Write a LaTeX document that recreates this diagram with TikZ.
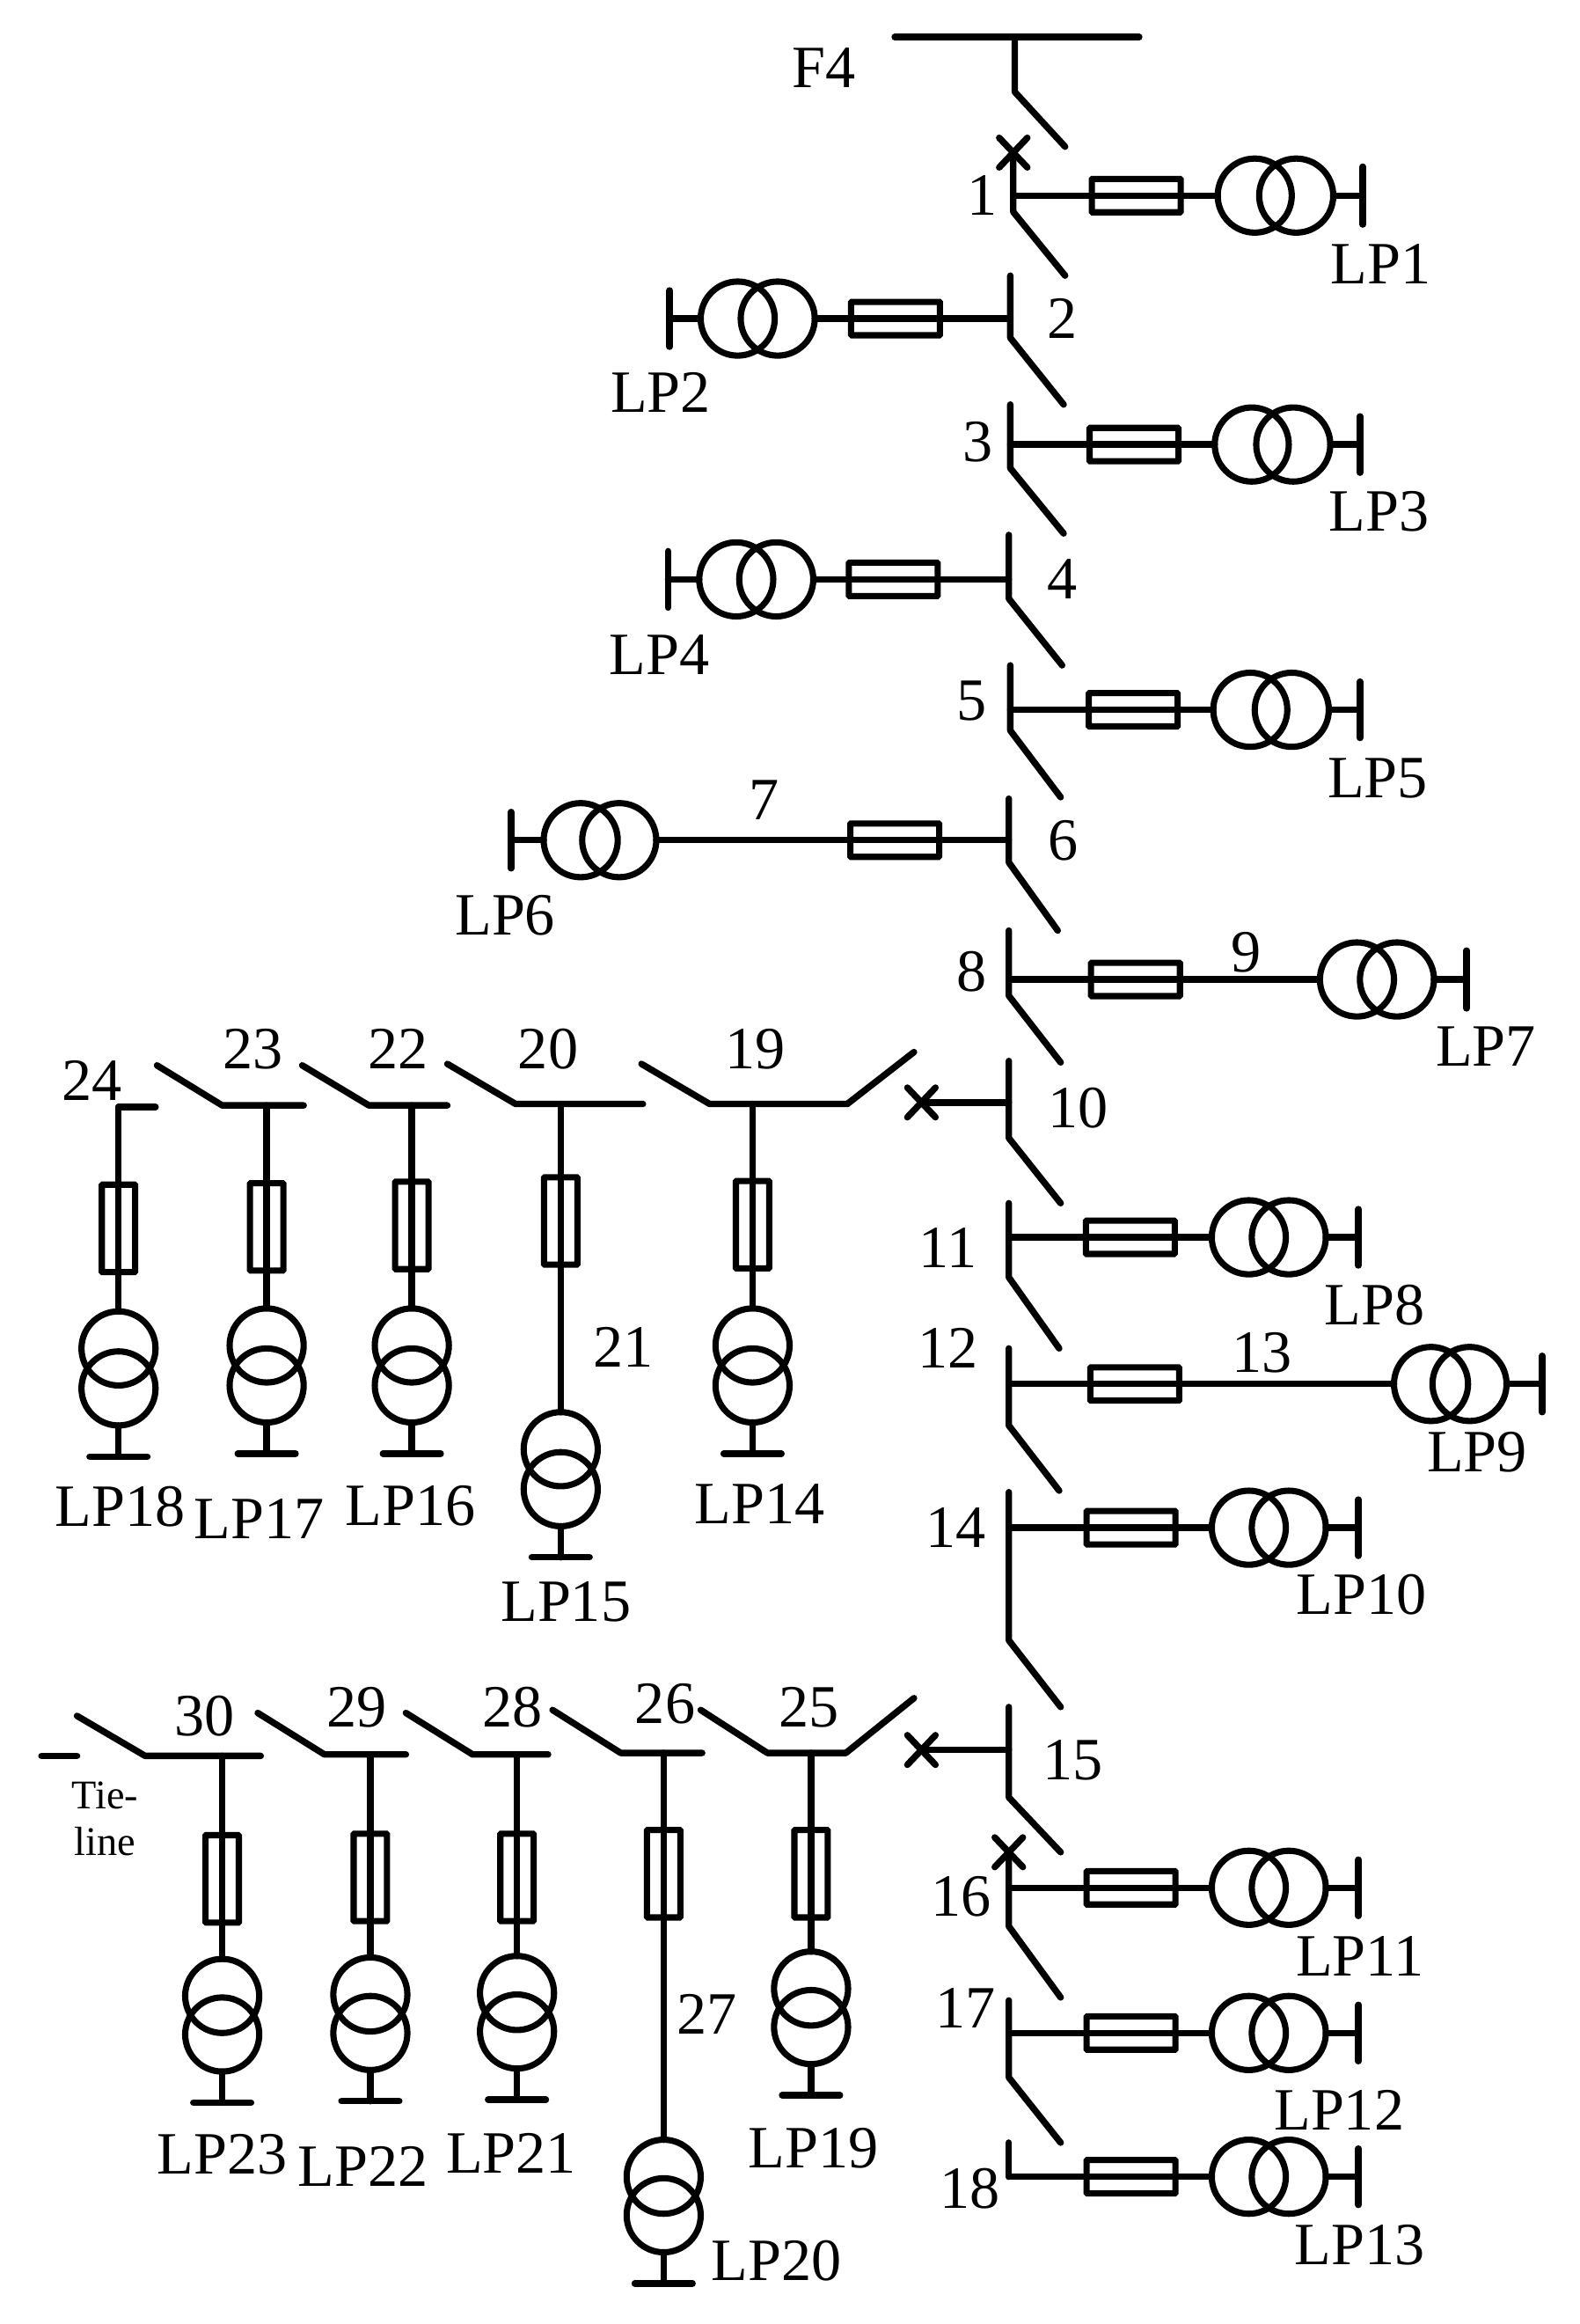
\documentclass[tikz,border=0pt]{standalone}
\usepackage{fontspec}
\setmainfont{Liberation Serif}
\newcommand{\hload}[9]{% name, bus x, y, fuse cx, c1, c2, bar x, bar half, near anchor of first circle
  \coordinate (#1b) at (#2,#3);
  \node[fuseh] (#1f) at (#4,#3) {};
  \node[xfmr] (#1p) at (#5,#3) {};
  \node[xfmr] (#1s) at (#6,#3) {};
  \coordinate (#1e) at (#7,#3);
  \coordinate (#1u) at (#7,#3-#8);
  \coordinate (#1d) at (#7,#3+#8);
  \draw[wire] (#1b) -- (#1f.west) -- (#1f.east) -- (#1p.#9);
  \draw[wire] (#1u) -- (#1d);
}
\newcommand{\vload}[6]{% name, x, bus y, fuse cy, c1 y, c2 y
  \coordinate (#1b) at (#2,#3);
  \node[fusev] (#1f) at (#2,#4) {};
  \node[xfmr] (#1p) at (#2,#5) {};
  \node[xfmr] (#1s) at (#2,#6) {};
  \coordinate (#1e) at (#2,#6+46);
  \coordinate (#1l) at (#2-19.5,#6+46);
  \coordinate (#1r) at (#2+19.5,#6+46);
  \draw[wire] (#1b) -- (#1f.north) -- (#1f.south) -- (#1p.north);
  \draw[wire] (#1s.south) -- (#1e);
  \draw[wire] (#1l) -- (#1r);
}
\newcommand{\feeder}[6]{% name, x, top, bottom, tip x, tip y
  \coordinate (#1t) at (#2,#3);
  \coordinate (#1m) at (#2,#4);
  \coordinate (#1k) at (#5,#6);
  \draw[wire] (#1t) -- (#1m) -- (#1k);
}
\newcommand{\crossmark}[3]{%
  \coordinate (#1) at (#2,#3);
  \coordinate (#1a) at (#2-9.5,#3-10);
  \coordinate (#1c) at (#2+9.5,#3+10);
  \coordinate (#1g) at (#2-9.5,#3+10);
  \coordinate (#1h) at (#2+9.5,#3-10);
  \draw[wire] (#1a) -- (#1c);
  \draw[wire] (#1g) -- (#1h);
}
\newcommand{\swbus}[6]{% name, blade x, blade y, hinge x, y, bus right x
  \coordinate (#1k) at (#2,#3);
  \coordinate (#1h) at (#4,#5);
  \coordinate (#1r) at (#6,#5);
  \draw[wire] (#1k) -- (#1h) -- (#1r);
}
\begin{document}
\begin{tikzpicture}[x=1pt,y=-1pt,
  wire/.style={line width=4.4pt,line cap=round,line join=round},
  fuseh/.style={draw,line width=4.2pt,rectangle,minimum width=60pt,minimum height=22.5pt,inner sep=0pt,outer sep=0pt,rounded corners=0.5pt},
  fusev/.style={draw,line width=4.2pt,rectangle,minimum width=22.5pt,minimum height=59pt,inner sep=0pt,outer sep=0pt,rounded corners=0.5pt},
  xfmr/.style={draw,line width=4.2pt,circle,minimum size=50pt,inner sep=0pt,outer sep=0pt},
  lab/.style={inner sep=0pt,outer sep=0pt,font=\fontsize{40.5}{40.5}\selectfont},
  tinylab/.style={inner sep=0pt,outer sep=0pt,font=\fontsize{27.5}{27.5}\selectfont}]
\useasboundingbox (0,0) rectangle (1066,1568.4);

% source
\coordinate (f4l) at (604,25); \coordinate (f4r) at (769,25); \coordinate (f4c) at (685,25);
\draw[wire] (f4l) -- (f4r);
\coordinate (f4m) at (685,62); \coordinate (f4k) at (719,99);
\draw[wire] (f4c) -- (f4m) -- (f4k);
\node[lab] (tF4) at (556,46) {F4};

% main feeder, right side
\crossmark{xa}{684}{103}
\feeder{ba}{684}{103}{143}{719}{186}
\hload{la}{684}{132}{767}{847}{875}{920}{19.5}{west}
\draw[wire] (las.east) -- (lae);
\node[lab] (n1) at (663,132) {1};
\node[lab] (tLP1) at (932,178) {LP1};

\feeder{bb}{682}{186}{228}{718}{273}
\hload{lb}{682}{215}{604.5}{525}{498}{452}{19}{east}
\draw[wire] (lbs.west) -- (lbe);
\node[lab] (n2) at (717,215) {2};
\node[lab] (tLP2) at (446,265) {LP2};

\feeder{bc}{682}{273}{316}{718}{360}
\hload{lc}{682}{300}{765.5}{845}{873}{918}{19}{west}
\draw[wire] (lcs.east) -- (lce);
\node[lab] (n3) at (660,298) {3};
\node[lab] (tLP3) at (931,345) {LP3};

\feeder{bd}{681}{361}{404}{717}{449}
\hload{ld}{681}{391}{603}{524}{497}{451}{19}{east}
\draw[wire] (lds.west) -- (lde);
\node[lab] (n4) at (717,391) {4};
\node[lab] (tLP4) at (445,442) {LP4};

\feeder{be}{682}{449}{493}{716}{538}
\hload{le}{682}{479}{765}{844}{872}{918}{19}{west}
\draw[wire] (les.east) -- (lee);
\node[lab] (n5) at (656,473) {5};
\node[lab] (tLP5) at (930,525) {LP5};

\feeder{bf}{681}{539}{582}{714}{628}
\hload{lf}{681}{567}{604}{418}{392}{345}{19}{east}
\draw[wire] (lfs.west) -- (lfe);
\node[lab] (n6) at (718,567) {6};
\node[lab] (n7) at (516,540) {7};
\node[lab] (tLP6) at (341,618) {LP6};

\feeder{bg}{681}{628}{672}{716}{717}
\hload{lg}{681}{661}{766.5}{916}{943}{990}{19.5}{west}
\draw[wire] (lgs.east) -- (lge);
\node[lab] (n8) at (656,656) {8};
\node[lab] (n9) at (841,643) {9};
\node[lab] (tLP7) at (1003,706) {LP7};

\feeder{bh}{681}{716}{768}{716}{812}
\crossmark{xb}{622}{744}
\coordinate (bhj) at (681,744);
\draw[wire] (bhj) -- (xb);
\node[lab] (n10) at (728,748) {10};

\feeder{bi}{681}{812}{862}{715}{910}
\hload{li}{681}{835}{763}{843}{870}{917}{19}{west}
\draw[wire] (lis.east) -- (lie);
\node[lab] (n11) at (640,842) {11};
\node[lab] (tLP8) at (928,881) {LP8};

\feeder{bj}{681}{910}{962}{715}{1006}
\hload{lj}{681}{934}{766}{966}{992}{1041}{19}{west}
\draw[wire] (ljs.east) -- (lje);
\node[lab] (n12) at (640,910) {12};
\node[lab] (n13) at (852,913) {13};
\node[lab] (tLP9) at (997,980) {LP9};

\feeder{bk}{681}{1007}{1107}{716}{1152}
\hload{lk}{681}{1031}{763.5}{843}{870}{917}{19}{west}
\draw[wire] (lks.east) -- (lke);
\node[lab] (n14) at (645,1031) {14};
\node[lab] (tLP10) at (919,1076) {LP10};

\feeder{bl}{681}{1152}{1213}{716}{1250}
\crossmark{xc}{622}{1181}
\coordinate (blj) at (681,1181);
\draw[wire] (blj) -- (xc);
\node[lab] (n15) at (724,1188) {15};

\crossmark{xd}{681}{1250}
\feeder{bm}{681}{1250}{1300}{716}{1348}
\hload{lm}{681}{1274}{763.5}{843}{870}{917}{19}{west}
\draw[wire] (lms.east) -- (lme);
\node[lab] (n16) at (649,1280) {16};
\node[lab] (tLP11) at (918,1320) {LP11};

\feeder{bn}{681}{1350}{1402}{716}{1446}
\hload{ln}{681}{1372}{763.5}{843}{870}{917}{19}{west}
\draw[wire] (lns.east) -- (lne);
\node[lab] (n17) at (652,1355) {17};
\node[lab] (tLP12) at (904,1424) {LP12};

\coordinate (bot) at (681,1446);
\hload{lo}{681}{1469}{763.5}{843}{870}{917}{19}{west}
\draw[wire] (bot) -- (lob);
\draw[wire] (los.east) -- (loe);
\node[lab] (n18) at (655,1477) {18};
\node[lab] (tLP13) at (918,1515) {LP13};

% upper branch
\swbus{sa}{433}{718}{479}{745}{572}
\coordinate (sab) at (617,710);
\draw[wire] (sar) -- (sab);
\node[lab] (n19) at (510,708) {19};
\vload{va}{508}{745}{826.5}{908}{935}
\node[lab] (tLP14) at (513,1015) {LP14};

\swbus{sb}{302}{718}{348}{745}{434}
\node[lab] (n20) at (370,708) {20};
\vload{vb}{378.5}{745}{824}{978}{1005}
\node[lab] (n21) at (421,909) {21};
\node[lab] (tLP15) at (382,1081) {LP15};

\swbus{sc}{204}{719}{249}{746}{302}
\node[lab] (n22) at (269,708) {22};
\vload{vc}{278}{746}{827}{908}{935}
\node[lab] (tLP16) at (277,1016) {LP16};

\swbus{sd}{106}{719}{150}{746}{205}
\node[lab] (n23) at (171,708) {23};
\vload{vd}{180}{746}{828}{908}{935}
\node[lab] (tLP17) at (175,1025) {LP17};

\coordinate (sel) at (80,747); \coordinate (ser) at (105,747);
\draw[wire] (sel) -- (ser);
\node[lab] (n24) at (62,729) {24};
\vload{ve}{80}{747}{829}{910}{937}
\node[lab] (tLP18) at (81,1017) {LP18};

% lower branch
\swbus{sf}{473}{1154}{518}{1183}{571}
\coordinate (sfb) at (617,1146);
\draw[wire] (sfr) -- (sfb);
\node[lab] (n25) at (546,1152) {25};
\vload{vf}{547.5}{1183}{1264.5}{1342}{1368}
\node[lab] (tLP19) at (549,1450) {LP19};

\swbus{sg}{373}{1154}{419}{1183}{474}
\node[lab] (n26) at (449,1150) {26};
\vload{vg}{448}{1183}{1264.5}{1469}{1495}
\node[lab] (n27) at (477,1359) {27};
\node[lab] (tLP20) at (524,1526) {LP20};

\swbus{sh}{274}{1156}{319}{1184}{370}
\node[lab] (n28) at (346,1152) {28};
\vload{vh}{349}{1184}{1267}{1345}{1371}
\node[lab] (tLP21) at (345,1453) {LP21};

\swbus{si}{174}{1156}{219}{1184}{274}
\node[lab] (n29) at (241,1152) {29};
\vload{vi}{250}{1184}{1267}{1346}{1372}
\node[lab] (tLP22) at (245,1462) {LP22};

\swbus{sj}{52}{1158}{98}{1185}{176}
\node[lab] (n30) at (138,1158) {30};
\vload{vj}{150}{1185}{1268}{1347}{1373}
\node[lab] (tLP23) at (150,1454) {LP23};

\coordinate (tla) at (28,1185); \coordinate (tlb) at (52,1185);
\draw[wire] (tla) -- (tlb);
\node[tinylab] (tTie) at (71,1212) {Tie-};
\node[tinylab] (tLine) at (71,1243) {line};
\end{tikzpicture}
\end{document}
